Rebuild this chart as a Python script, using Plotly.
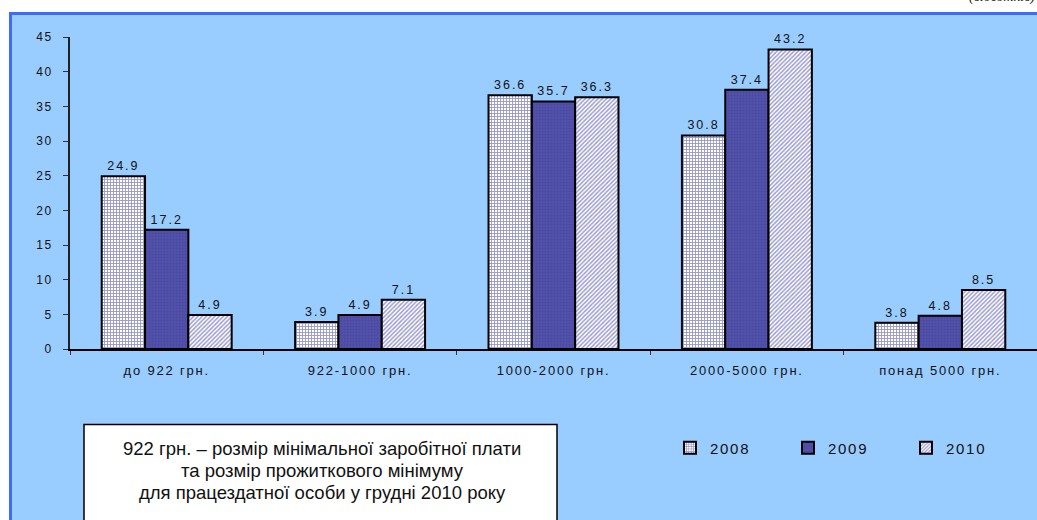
import plotly.graph_objects as go

categories = ["до 922 грн.", "922-1000 грн.", "1000-2000 грн.", "2000-5000 грн.", "понад 5000 грн."]
years = ["2008", "2009", "2010"]
values_2008 = [24.9, 3.9, 36.6, 30.8, 3.8]
values_2009 = [17.2, 4.9, 35.7, 37.4, 4.8]
values_2010 = [4.9, 7.1, 36.3, 43.2, 8.5]
y_ticks = [0, 5, 10, 15, 20, 25, 30, 35, 40, 45]
note_lines = ["922 грн. – розмір мінімальної заробітної плати",
              "та розмір прожиткового мінімуму",
              "для працездатної особи у грудні 2010 року"]
unit_text = "(відсотків)"

W, H = 1037, 520
L, R, T, B = 70, 0, 37, 171
PW, PH = W - L - R, H - T - B

def px(x):
    return (x - L) / PW

def py(y):
    return (H - B - y) / PH

FONT = "Arial, Liberation Sans, sans-serif"

styles = [
    dict(color="white", pattern=dict(shape="+", fgcolor="#2A2A90", bgcolor="white", size=3, solidity=0.5)),
    dict(color="#4D4DA6", pattern=dict(shape=".", fgcolor="#3C3C96", bgcolor="#5252AA", size=3, solidity=0.3)),
    dict(color="white", pattern=dict(shape="/", fgcolor="#3A3AA0", bgcolor="white", size=3, solidity=0.5)),
]

fig = go.Figure()
for name, vals, st in zip(years, [values_2008, values_2009, values_2010], styles):
    fig.add_trace(go.Bar(
        x=categories, y=vals, name=name,
        marker=dict(color=st["color"], pattern=st["pattern"], line=dict(color="black", width=2)),
        text=[f"{v:.1f}" for v in vals], textposition="outside",
        textfont=dict(family=FONT, size=12.5, color="#111"),
        cliponaxis=False,
    ))

note_ys = [448, 470, 492]
annotations = [
    dict(text=line, xref="paper", yref="paper", x=px(322), y=py(yy),
         xanchor="center", yanchor="middle", showarrow=False, align="center",
         font=dict(family=FONT, size=18.5, color="#111"))
    for line, yy in zip(note_lines, note_ys)
]
annotations.append(
    dict(text=f"<i>{unit_text}</i>", xref="paper", yref="paper", x=px(1037), y=py(-3),
         xanchor="right", yanchor="middle", showarrow=False,
         font=dict(family="Liberation Serif, Times New Roman, serif", size=14, color="#111")))

fig.update_layout(
    width=W, height=H,
    margin=dict(l=L, r=R, t=T, b=B, pad=0, autoexpand=False),
    paper_bgcolor="white", plot_bgcolor="rgba(0,0,0,0)",
    barmode="group", bargap=0.328, bargroupgap=0,
    font=dict(family=FONT, size=12, color="#111"),
    showlegend=True,
    legend=dict(orientation="h", x=px(670), xanchor="left", y=py(448), yanchor="middle",
                bgcolor="rgba(0,0,0,0)", font=dict(family=FONT, size=15, color="#111"),
                entrywidth=73, entrywidthmode="pixels", traceorder="normal"),
    xaxis=dict(type="category", showline=True, linecolor="black", linewidth=1.5,
               ticks="outside", ticklen=4, tickcolor="#333", tickson="boundaries",
               showgrid=False, tickfont=dict(family=FONT, size=13, color="#111"),
               ticklabelstandoff=9),
    yaxis=dict(range=[0, 45], tickvals=y_ticks, showline=True, linecolor="#222", linewidth=1.5,
               ticks="outside", ticklen=5, tickcolor="#333", showgrid=False, zeroline=False,
               tickfont=dict(family=FONT, size=12, color="#111"), ticklabelstandoff=8),
    shapes=[
        dict(type="rect", xref="paper", yref="paper", x0=px(10.5), x1=px(1100), y0=py(700), y1=py(13.5),
             fillcolor="#99CCFF", line=dict(color="#3D6BFF", width=3), layer="below"),
        dict(type="rect", xref="paper", yref="paper", x0=px(84), x1=px(557), y0=py(560), y1=py(424.5),
             fillcolor="white", line=dict(color="black", width=1.5), layer="above"),
    ],
    annotations=annotations,
)

post = """
document.body.style.margin = '0';
var gd = document.getElementById('{plot_id}');
function spacing() {
  gd.querySelectorAll('.bartext').forEach(function(e){ e.style.letterSpacing = '2px'; });
  gd.querySelectorAll('.xtick text').forEach(function(e){ e.style.letterSpacing = '1.8px'; });
  gd.querySelectorAll('.ytick text').forEach(function(e){ e.style.letterSpacing = '1.6px'; });
  gd.querySelectorAll('.legendtext').forEach(function(e){ e.style.letterSpacing = '1.7px'; });
}
spacing();
gd.on('plotly_afterplot', spacing);
"""

fig.write_html("out.html", post_script=post, config={"displayModeBar": False})
